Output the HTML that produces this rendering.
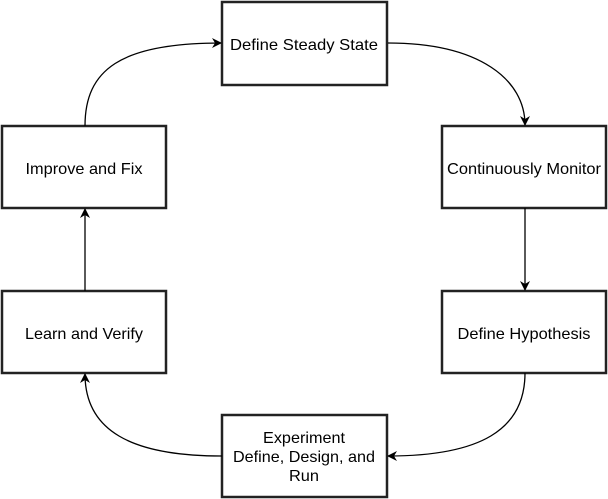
<!DOCTYPE html>
<html><head><style>
html,body{margin:0;padding:0;background:#fff;}
svg{display:block;}
text{font-family:"Liberation Sans",Arial,sans-serif;font-size:16px;fill:#000;text-anchor:middle;}
</style></head><body>
<svg width="608" height="499" viewBox="0 0 608 499" xmlns="http://www.w3.org/2000/svg">
<defs><marker id="a" markerWidth="10" markerHeight="10" refX="9" refY="5" orient="auto" markerUnits="userSpaceOnUse"><path d="M0,0 L10,5 L0,10 L3,5 Z" fill="#000"/></marker></defs>
<g fill="#fff" stroke="#222" stroke-width="2.5">
<rect x="222" y="2" width="165" height="83"/>
<rect x="2" y="126" width="164" height="82"/>
<rect x="442" y="126" width="164" height="82"/>
<rect x="2" y="291" width="164" height="82"/>
<rect x="442" y="291" width="164" height="82"/>
<rect x="222" y="415" width="165" height="82"/>
</g>
<g fill="none" stroke="#000" stroke-width="1.3">
<path d="M85,126 C85,70 120,43 221,43" marker-end="url(#a)"/>
<path d="M388,43 C480,43 525,80 525,125" marker-end="url(#a)"/>
<path d="M525,208 L525,290" marker-end="url(#a)"/>
<path d="M525,373 C525,430 480,456 388,456" marker-end="url(#a)"/>
<path d="M222,456 C130,456 85,430 85,374" marker-end="url(#a)"/>
<path d="M85,291 L85,209" marker-end="url(#a)"/>
</g>
<g textLength="0">
<text x="304" y="50" textLength="148" lengthAdjust="spacingAndGlyphs">Define Steady State</text>
<text x="84" y="174" textLength="117" lengthAdjust="spacingAndGlyphs">Improve and Fix</text>
<text x="524" y="174" textLength="154" lengthAdjust="spacingAndGlyphs">Continuously Monitor</text>
<text x="84" y="339" textLength="118" lengthAdjust="spacingAndGlyphs">Learn and Verify</text>
<text x="524" y="339" textLength="133" lengthAdjust="spacingAndGlyphs">Define Hypothesis</text>
<text x="304" y="443" textLength="82" lengthAdjust="spacingAndGlyphs">Experiment</text>
<text x="304" y="462" textLength="142" lengthAdjust="spacingAndGlyphs">Define, Design, and</text>
<text x="304" y="481" textLength="30" lengthAdjust="spacingAndGlyphs">Run</text>
</g>
</svg>
</body></html>
